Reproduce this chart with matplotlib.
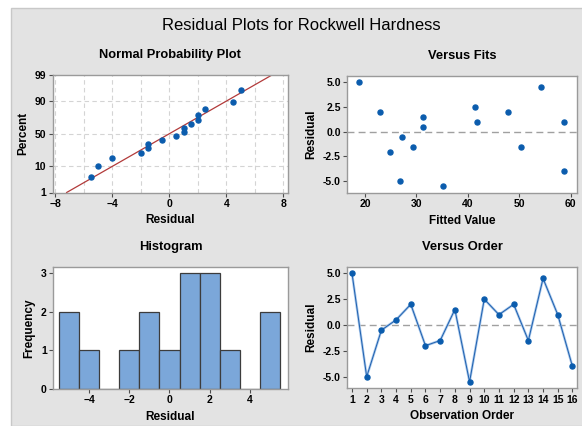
"""Minitab-style four-in-one residual plots for Rockwell Hardness."""

from statistics import NormalDist

import matplotlib

matplotlib.use("Agg")

import matplotlib.pyplot as plt
import numpy as np
from matplotlib.patches import Rectangle

plt.rcParams["font.family"] = ["Liberation Sans Narrow", "Liberation Sans", "DejaVu Sans"]

# residuals in observation order, and the matching fitted values
observation = list(range(1, 17))
residuals = [5.0, -5.0, -0.5, 0.5, 2.0, -2.0, -1.5, 1.5,
             -5.5, 2.5, 1.0, 2.0, -1.5, 4.5, 1.0, -4.0]
fitted = [18.8, 26.8, 27.2, 31.3, 22.9, 24.9, 29.4, 31.3,
          35.2, 41.4, 41.7, 47.7, 50.3, 54.2, 58.7, 58.7]

prob_ticks = [1, 10, 50, 90, 99]
resid_ticks = [-5.0, -2.5, 0.0, 2.5, 5.0]
hist_edges = np.arange(-5.5, 6.0, 1.0)

DOT = "#0b5cad"
BAR = "#7ba7d9"
SPINE = "#9a9a9a"
TICKFONT = {"fontsize": 7.5, "fontweight": "bold"}


def style_axis(ax, title, xlabel, ylabel):
    ax.set_facecolor("white")
    for s in ax.spines.values():
        s.set_color(SPINE)
        s.set_linewidth(1.0)
    ax.tick_params(direction="out", length=3, width=0.8, color="0.3", pad=1.5)
    for lab in ax.get_xticklabels() + ax.get_yticklabels():
        lab.set_fontsize(TICKFONT["fontsize"])
        lab.set_fontweight(TICKFONT["fontweight"])
    ax.set_title(title, fontsize=9.3, fontweight="bold", pad=12)
    ax.set_xlabel(xlabel, fontsize=8.5, fontweight="bold", labelpad=4)
    ax.set_ylabel(ylabel, fontsize=8.5, fontweight="bold", labelpad=4)


fig = plt.figure(figsize=(5.82, 4.26), dpi=100)
fig.patch.set_facecolor("white")
fig.add_artist(Rectangle((11 / 582, 0), 1, 1 - 8 / 426, transform=fig.transFigure,
                         facecolor="#e3e3e3", edgecolor="#c8c8c8", linewidth=1.0, zorder=-1))
fig.text(0.517, 1 - 26 / 426, "Residual Plots for Rockwell Hardness", ha="center", va="center",
         fontsize=12)

# --- normal probability plot
ax1 = fig.add_axes([52.5 / 582, 1 - 192.5 / 426, 235 / 582, 117.5 / 426])
nd = NormalDist()
n = len(residuals)
sorted_res = np.sort(residuals)
zs = [nd.inv_cdf((i - 0.3) / (n + 0.4)) for i in range(1, n + 1)]
mu = float(np.mean(residuals))
sd = float(np.std(residuals, ddof=1))
zlo, zhi = nd.inv_cdf(0.01), nd.inv_cdf(0.99)
ax1.set_xlim(-8.2, 8.3)
ax1.set_ylim(zlo, zhi)
for gx in np.arange(-8, 9, 2):
    ax1.axvline(gx, color="#d4d4d4", linestyle=(0, (4, 3)), linewidth=0.8, zorder=0)
for p in prob_ticks[1:-1]:
    ax1.axhline(nd.inv_cdf(p / 100), color="#d4d4d4", linestyle=(0, (4, 3)), linewidth=0.8, zorder=0)
ax1.plot([mu + sd * zlo, mu + sd * zhi], [zlo, zhi], color="#b23a3a", linewidth=0.9, zorder=2)
ax1.scatter(sorted_res, zs, s=13, color=DOT, zorder=3)
ax1.set_xticks([-8, -4, 0, 4, 8])
ax1.set_xticks(np.arange(-8, 9, 2), minor=True)
ax1.tick_params(which="minor", length=0)
ax1.set_yticks([nd.inv_cdf(p / 100) for p in prob_ticks])
ax1.set_yticklabels([str(p) for p in prob_ticks])
style_axis(ax1, "Normal Probability Plot", "Residual", "Percent")

# --- versus fits
ax2 = fig.add_axes([347 / 582, 1 - 193 / 426, 230 / 582, 117 / 426])
ax2.axhline(0, color="#a0a0a0", linestyle=(0, (5, 3)), linewidth=1.0, zorder=1)
ax2.scatter(fitted, residuals, s=13, color=DOT, zorder=3)
ax2.set_xlim(16.5, 61.2)
ax2.set_ylim(-6.2, 5.65)
ax2.set_xticks([20, 30, 40, 50, 60])
ax2.set_yticks(resid_ticks)
ax2.set_yticklabels([f"{v:.1f}" for v in resid_ticks])
style_axis(ax2, "Versus Fits", "Fitted Value", "Residual")

# --- histogram
ax3 = fig.add_axes([53 / 582, 1 - 389 / 426, 235 / 582, 122.3 / 426])
ax3.hist(residuals, bins=hist_edges, color=BAR, edgecolor="#3c3c3c", linewidth=0.9, zorder=2)
ax3.set_xlim(-5.8, 5.9)
ax3.set_ylim(0, 3.17)
ax3.set_xticks([-4, -2, 0, 2, 4])
ax3.set_yticks([0, 1, 2, 3])
style_axis(ax3, "Histogram", "Residual", "Frequency")

# --- versus order
ax4 = fig.add_axes([347 / 582, 1 - 388.3 / 426, 230 / 582, 121.6 / 426])
ax4.axhline(0, color="#a0a0a0", linestyle=(0, (5, 3)), linewidth=1.0, zorder=1)
ax4.plot(observation, residuals, color="#a9c8eb", linewidth=1.8, zorder=2)
ax4.plot(observation, residuals, color="#1d5fae", linewidth=0.7, zorder=3)
ax4.scatter(observation, residuals, s=13, color=DOT, zorder=4)
ax4.set_xlim(0.66, 16.31)
ax4.set_ylim(-6.12, 5.64)
ax4.set_xticks(observation)
ax4.set_yticks(resid_ticks)
ax4.set_yticklabels([f"{v:.1f}" for v in resid_ticks])
style_axis(ax4, "Versus Order", "Observation Order", "Residual")

fig.savefig("out.png", dpi=100)
